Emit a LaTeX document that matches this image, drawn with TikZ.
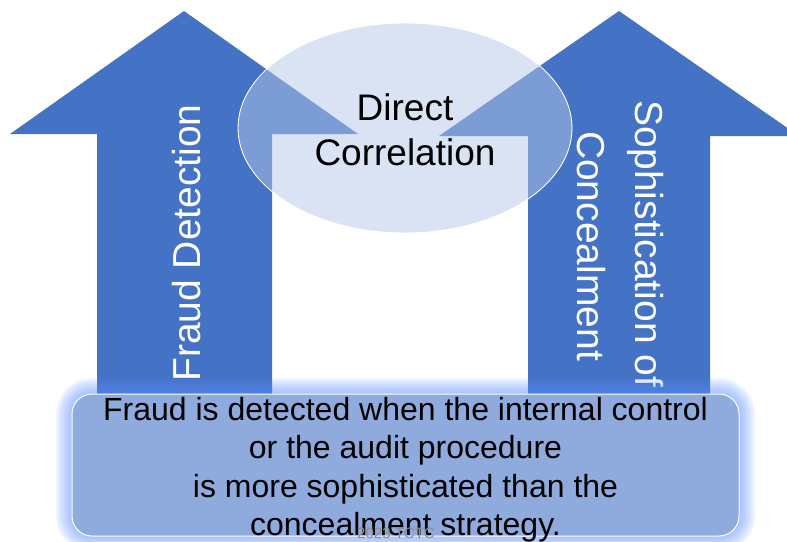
\documentclass[tikz,border=0pt]{standalone}
\usepackage{fontspec}
\setmainfont{Liberation Sans}
\usetikzlibrary{shapes.geometric}
\begin{document}
\begin{tikzpicture}[x=1pt,y=-1pt,
  arrowshape/.style={fill=arrowblue,draw=none},
  arrowtxt/.style={text=white,font=\fontsize{39}{47}\selectfont,inner sep=0pt},
  corrtxt/.style={text=black,font=\fontsize{37}{45}\selectfont,inner sep=0pt,align=center},
  boxtxt/.style={text=black,font=\fontsize{32}{38.3}\selectfont,inner sep=0pt,align=center},
  marktxt/.style={text=gray!90,font=\fontsize{15}{18}\selectfont,inner sep=0pt}]
\definecolor{arrowblue}{HTML}{4472C4}
\definecolor{ellfill}{HTML}{B4C7E7}
\definecolor{boxfill}{HTML}{8FAADC}
\definecolor{glowcol}{RGB}{95,145,255}
\useasboundingbox (0,0) rectangle (787,541);
\clip (0,0) rectangle (787,541);

% two upward block arrows
\path[arrowshape] (184,11) -- (358,134) -- (272,134) -- (272,400) -- (97,400)
  -- (97,134) -- (10,134) -- cycle;
\path[arrowshape] (619,11) -- (799,136) -- (710,136) -- (710,400) -- (528,400)
  -- (528,136) -- (439,136) -- cycle;

\node[arrowtxt,rotate=90,anchor=base] (fraud) at (200,243) {Fraud Detection};
\node[arrowtxt,rotate=-90,anchor=base] (soph) at (635,244) {Sophistication of};
\node[arrowtxt,rotate=-90,anchor=base] (conc) at (577,246) {Concealment};

% translucent ellipse linking the arrows
\node[ellipse,minimum width=334pt,minimum height=210pt,fill=ellfill,fill opacity=0.5,
  draw=white,line width=0.9pt,inner sep=0pt] (corr) at (405,128) {};
\node[corrtxt,anchor=north] (corrlbl) at (405,93.5) {Direct\\Correlation};

% soft glow around the bottom box
\foreach \g in {16,14,...,2}{
  \fill[glowcol,opacity=0.09,rounded corners={20pt+\g pt}]
    (72-\g,394-\g) rectangle (739+\g,536+\g);
}
\node[draw=white,line width=1pt,fill=boxfill,rounded corners=20pt,
  minimum width=667pt,minimum height=142pt,inner sep=0pt] (box) at (405.5,465) {};
\node[boxtxt,anchor=north] (boxlbl) at (405.5,397.2)
  {Fraud is detected when the internal control\\or the audit procedure\\is more sophisticated than the\\concealment strategy.};
\node[marktxt,anchor=base] (mark) at (396,538) {2023 TCTC};
\end{tikzpicture}
\end{document}
